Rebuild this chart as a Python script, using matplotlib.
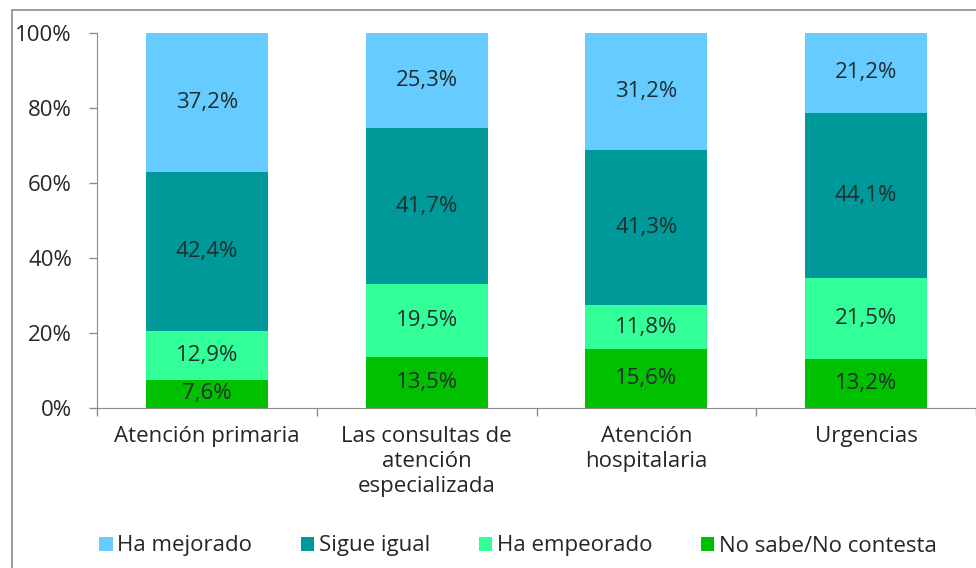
import matplotlib
matplotlib.use("Agg")
import matplotlib.pyplot as plt
from matplotlib.patches import Rectangle
import numpy as np

categorias = ["Atención primaria", "Las consultas de\natención\nespecializada",
              "Atención\nhospitalaria", "Urgencias"]
series = ["Ha mejorado", "Sigue igual", "Ha empeorado", "No sabe/No contesta"]
no_sabe    = [7.6, 13.5, 15.6, 13.2]
empeorado  = [12.9, 19.5, 11.8, 21.5]
igual      = [42.4, 41.7, 41.3, 44.1]
mejorado   = [37.2, 25.3, 31.2, 21.2]
colores = {"Ha mejorado": "#66CCFF", "Sigue igual": "#009999",
           "Ha empeorado": "#33FF99", "No sabe/No contesta": "#00C000"}

plt.rcParams['font.family'] = ['Open Sans', 'DejaVu Sans']

fig = plt.figure(figsize=(9.76, 5.68), dpi=100)
ax = fig.add_axes([97/976, 1-408/568, 879/976, 375/568])

# marco del gráfico (cortado a la derecha y abajo)
fig.patches.append(Rectangle((12/976, -0.1), 1.2, 1 - 10/568 + 0.1,
                             transform=fig.transFigure, fill=False,
                             edgecolor="#8c8c8c", linewidth=1.2))

x = np.arange(len(categorias))
datos = [(no_sabe, "No sabe/No contesta"), (empeorado, "Ha empeorado"),
         (igual, "Sigue igual"), (mejorado, "Ha mejorado")]
total = np.sum([d for d, _ in datos], axis=0)
bottom = np.zeros(len(categorias))
barras = {}
for vals, nombre in datos:
    v = np.array(vals) / total * 100
    barras[nombre] = ax.bar(x, v, 0.555, bottom=bottom, color=colores[nombre],
                            label=nombre, linewidth=0)
    for xi, b, vi, lab in zip(x, bottom, v, vals):
        ax.text(xi, b + vi / 2, f"{lab:.1f}%".replace(".", ","),
                ha="center", va="center", fontsize=16, color="#1e2e2e")
    bottom += v

ax.set_xlim(-0.5, 3.5)
ax.set_ylim(0, 100)
ax.set_yticks(np.arange(0, 101, 20))
ax.set_yticklabels([f"{t}%" for t in range(0, 101, 20)])
ax.set_xticks(x)
ax.set_xticklabels(categorias, linespacing=1.25)
ax.set_xticks(np.arange(-0.5, 3.6, 1), minor=True)
ax.tick_params(axis="x", which="major", length=0, pad=13, labelsize=16, colors="#262626")
ax.tick_params(axis="x", which="minor", length=6, color="#8c8c8c", width=1)
ax.tick_params(axis="y", length=6, color="#8c8c8c", width=1, labelsize=16,
               labelcolor="#262626", pad=12)
for s in ["top", "right"]:
    ax.spines[s].set_visible(False)
for s in ["left", "bottom"]:
    ax.spines[s].set_color("#8c8c8c")

handles = [barras[n] for n in series]
fig.legend(handles, series, loc="center", bbox_to_anchor=(518/976, 1-546/568),
           ncol=4, frameon=False, fontsize=16, handlelength=0.6, handleheight=0.6,
           handletextpad=0.2, columnspacing=2.2, labelcolor="#262626")

fig.savefig("out.png", dpi=100)
